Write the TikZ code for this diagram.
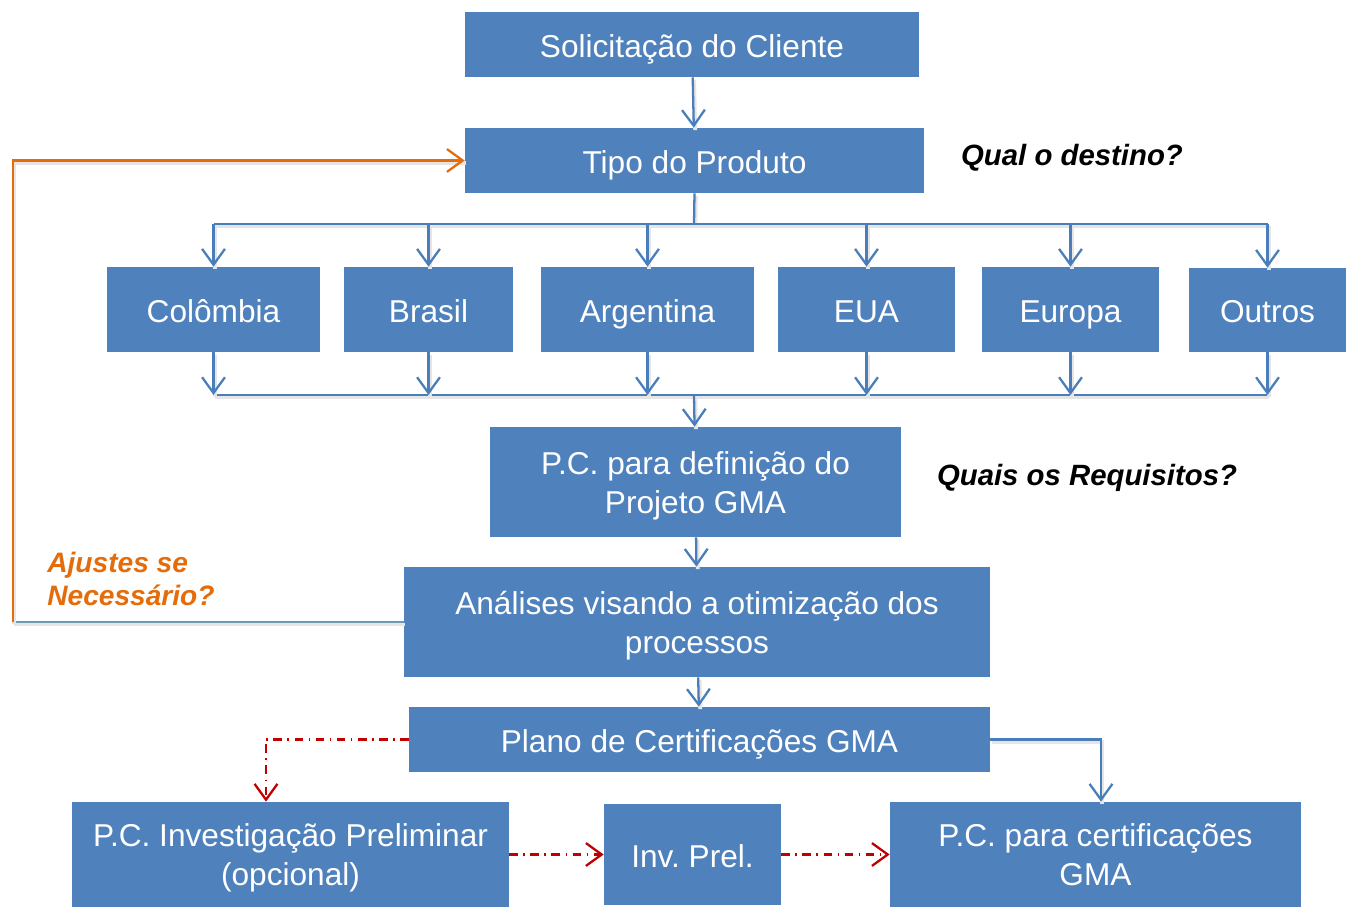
\documentclass[tikz,border=0pt]{standalone}
\usepackage{fontspec}
\setmainfont{Liberation Sans}
\usepackage{tikz}
\usetikzlibrary{arrows.meta,calc}
\frenchspacing

\definecolor{boxblue}{HTML}{4F81BD}
\definecolor{lineblue}{HTML}{4A7EBB}
\definecolor{fborange}{HTML}{E46C0A}
\definecolor{fbgray}{HTML}{6A9DB5}
\definecolor{darkred}{HTML}{C00000}

\newcommand{\twoline}[2]{\raisebox{-2.3pt}[\height][\depth]{\begin{tabular}{@{}c@{}}#1\\#2\end{tabular}}}

\tikzset{
  box/.style={fill=boxblue, text=white, inner sep=0pt,
    font=\fontsize{18}{22}\selectfont},
  onebox/.style={box, text height=17.6pt, text depth=3pt},
  shade/.style={preaction={draw=black!10, line width=2.2pt, -,
    transform canvas={shift={(0.8pt,-1.4pt)}}}},
  flow/.style={lineblue, line width=1.3pt, shade},
  flowarr/.style={flow, -{Straight Barb[length=9pt,width=13pt]}},
  optarr/.style={darkred, line width=1.3pt, dash pattern=on 5pt off 3pt on 1pt off 3pt,
    -{Straight Barb[length=9pt,width=13pt]}},
  ask/.style={font=\fontsize{16.7}{19}\selectfont\bfseries\itshape}
}

\begin{document}
\begin{tikzpicture}[x=0.02cm,y=-0.02cm]
\useasboundingbox (0,0) rectangle (1346,908);

% caixas
\node[onebox, minimum width=9.08cm, minimum height=1.3cm] (sol) at (692,44.5) {Solicitação do Cliente};
\node[onebox, minimum width=9.18cm, minimum height=1.3cm] (tipo) at (694.5,160.5) {Tipo do Produto};
\node[onebox, minimum width=4.26cm, minimum height=1.7cm] (col) at (213.5,309.5) {Colômbia};
\node[onebox, minimum width=3.38cm, minimum height=1.7cm] (bra) at (428.5,309.5) {Brasil};
\node[onebox, minimum width=4.26cm, minimum height=1.7cm] (arg) at (647.5,309.5) {Argentina};
\node[onebox, minimum width=3.54cm, minimum height=1.7cm] (eua) at (866.5,309.5) {EUA};
\node[onebox, minimum width=3.54cm, minimum height=1.7cm] (eur) at (1070.5,309.5) {Europa};
\node[onebox, minimum width=3.14cm, minimum height=1.68cm] (out) at (1267.5,310) {Outros};
\node[box, minimum width=8.22cm, minimum height=2.2cm] (pcdef) at (695.5,482) {\twoline{P.C. para definição do}{Projeto GMA}};
\node[box, minimum width=11.72cm, minimum height=2.2cm] (ana) at (697,622) {\twoline{Análises visando a otimização dos}{processos}};
\node[onebox, minimum width=11.62cm, minimum height=1.3cm] (plano) at (699.5,739.5) {Plano de Certificações GMA};
\node[box, minimum width=8.74cm, minimum height=2.1cm] (pcinv) at (290.5,854.5) {\twoline{P.C. Investigação Preliminar}{(opcional)}};
\node[onebox, minimum width=3.54cm, minimum height=2.02cm] (inv) at (692.5,854.5) {Inv. Prel.};
\node[box, minimum width=8.22cm, minimum height=2.1cm] (pccert) at (1095.5,854.5) {\twoline{P.C. para certificações}{GMA}};

% perguntas
\node[ask] (dest) at (1072,158) {Qual o destino?};
\node[ask] (req) at (1087,478) {Quais os Requisitos?};
\node[ask, font=\fontsize{16}{19}\selectfont\bfseries\itshape, text=fborange, anchor=west, align=left, inner sep=0pt] (ajuste) at (47,579) {Ajustes se\\Necessário?};

% ligacoes
\draw[flowarr] (sol) -- (tipo);
\coordinate (bustop) at (694,224);
\coordinate (busbot) at (694,395);
\draw[flow] (tipo.south) -- (bustop);
\draw[flow] (col.north |- bustop) -- (out.north |- bustop);
\draw[flow] (col.south |- busbot) -- (out.south |- busbot);
\foreach \c in {col,bra,arg,eua,eur,out}{
  \draw[flowarr] (\c.north |- bustop) -- (\c.north);
  \draw[flowarr] (\c.south) -- (\c.south |- busbot);
}
\draw[flowarr] (busbot) -- (pcdef);
\draw[flowarr] (pcdef) -- (ana);
\draw[flowarr] (ana) -- (plano);

% retorno
\coordinate (fb) at (13,622);
\draw[fbgray, line width=1.3pt, shade] (ana.west) -- (fb);
\draw[fborange, line width=1.3pt, shade, -{Straight Barb[length=9pt,width=13pt]}] (fb) |- (tipo.west);

% certificacoes
\coordinate (invturn) at (266,739.5);
\coordinate (certturn) at (1101,739.5);
\draw[optarr] (plano.west) -- (invturn) -- (invturn |- pcinv.north);
\draw[flowarr] (plano.east) -- (certturn) -- (certturn |- pccert.north);
\draw[optarr] (pcinv) -- (inv);
\draw[optarr] (inv) -- (pccert);

\end{tikzpicture}
\end{document}
